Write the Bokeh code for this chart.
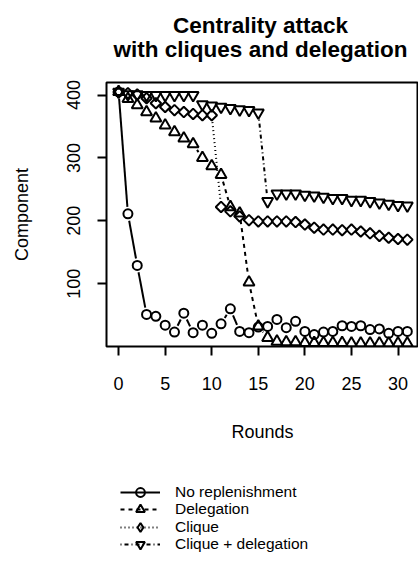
import math
from bokeh.plotting import figure
from bokeh.layouts import column
from bokeh.models import Range1d, FixedTicker, Legend, LegendItem, Label
from bokeh.embed import file_html
from bokeh.resources import INLINE

# ---------------- data ----------------
rounds = list(range(32))
no_replenishment = [405, 211, 129, 51, 48, 34, 23, 53, 22, 34, 21, 36, 60, 24, 22, 31,
                    32, 43, 30, 40, 24, 19, 23, 24, 33, 32, 33, 27, 28, 21, 24, 24]
delegation = [405, 394, 384, 373, 363, 352, 341, 331, 322, 300, 287, 273, 222, 212, 102, 32,
              14, 8, 7, 7, 6, 6, 6, 6, 6, 5, 5, 5, 5, 5, 5, 5]
clique = [405, 403, 401, 395, 387, 381, 376, 373, 370, 368, 368, 222, 215, 207, 201, 199,
          199, 199, 199, 198, 194, 189, 186, 186, 185, 186, 183, 180, 176, 173, 171, 170]
clique_delegation = [405, 401, 401, 400, 400, 400, 400, 400, 400, 385, 383, 381, 379, 377, 376, 372,
                     231, 243, 243, 243, 241, 240, 238, 236, 236, 233, 233, 231, 229, 227, 225, 224]
series_names = ["No replenishment", "Delegation", "Clique", "Clique + delegation"]
x_ticks = [0, 5, 10, 15, 20, 25, 30]
y_ticks = [100, 200, 300, 400]
title_lines = ["Centrality attack", "with cliques and delegation"]

# ---------------- layout ----------------
FONT = "Liberation Sans"
BASE = "18px"
LEGEND_FONT = "15.5px"
W = 418
TITLE_H = 78
MAIN_H = 382
LEG_H = 120
BL, BR, BT = 106, 0, 4
FW, FH = W - BL - BR, 264
BB = MAIN_H - BT - FH
X0, X1 = -1.3, 32.2
Y0, Y1 = 0, 420
CENTER_X = 260 - BL   # title centre, relative to the (column-aligned) frame left
TITLE_BASELINES = [25, 49]
LEGEND_ROWS = [492, 509, 527, 544]   # row centres (page px)
LEGEND_GLYPH_H = 22


def blank_fig(h):
    f = figure(width=W, height=h, x_range=Range1d(0, 1), y_range=Range1d(0, 1),
               output_backend="svg", toolbar_location=None,
               x_axis_type=None, y_axis_type=None,
               min_border_left=BL, min_border_right=BR, min_border_top=0, min_border_bottom=0)
    f.outline_line_color = None
    f.background_fill_color = "white"
    f.border_fill_color = "white"
    f.xgrid.visible = False
    f.ygrid.visible = False
    return f


# ---------- title ----------
pt = blank_fig(TITLE_H)
for txt, base_y in zip(title_lines, TITLE_BASELINES):
    pt.add_layout(Label(x=CENTER_X, y=TITLE_H - base_y, x_units="screen", y_units="screen",
                        text=txt, text_align="center", text_baseline="alphabetic",
                        text_font=FONT, text_font_size="22.5px", text_font_style="bold",
                        text_color="black"))

# ---------- main plot ----------
p = figure(width=W, height=MAIN_H, x_range=Range1d(X0, X1), y_range=Range1d(Y0, Y1),
           output_backend="svg", toolbar_location=None,
           min_border_left=BL, min_border_right=BR, min_border_top=BT, min_border_bottom=BB)
p.background_fill_color = "white"
p.border_fill_color = "white"
p.outline_line_color = "black"
p.outline_line_width = 2
p.xgrid.visible = False
p.ygrid.visible = False

for ax in (p.xaxis[0], p.yaxis[0]):
    ax.axis_line_color = None
    ax.major_tick_line_color = "black"
    ax.major_tick_line_width = 2
    ax.major_tick_out = 9
    ax.major_tick_in = 0
    ax.minor_tick_line_color = None
    ax.major_label_text_font = FONT
    ax.major_label_text_font_size = BASE
    ax.major_label_text_color = "black"
    ax.axis_label_text_font = FONT
    ax.axis_label_text_font_size = BASE
    ax.axis_label_text_font_style = "normal"
    ax.axis_label_text_color = "black"

p.xaxis.ticker = FixedTicker(ticks=x_ticks)
p.yaxis.ticker = FixedTicker(ticks=y_ticks)
p.xaxis.axis_label = "Rounds"
p.yaxis.axis_label = "Component"
p.yaxis.major_label_orientation = "vertical"
p.xaxis.major_label_standoff = 21
p.yaxis.major_label_standoff = 17
p.xaxis.axis_label_standoff = 29
p.yaxis.axis_label_standoff = 33


def gapped(xs, ys, gap=7.0):
    """R type='b' style: segments between points, shortened by a gap at both ends."""
    kx = FW / (X1 - X0)
    ky = FH / (Y1 - Y0)
    a, b, c, d = [], [], [], []
    for i in range(len(xs) - 1):
        dx = xs[i + 1] - xs[i]
        dy = ys[i + 1] - ys[i]
        L = math.hypot(dx * kx, dy * ky)
        if L <= 2 * gap:
            continue
        f = gap / L
        a.append(xs[i] + dx * f)
        b.append(ys[i] + dy * f)
        c.append(xs[i + 1] - dx * f)
        d.append(ys[i + 1] - dy * f)
    return a, b, c, d


styles = [
    (no_replenishment, "solid", dict(marker="circle", size=9, angle=0, legend_marker="circle")),
    (delegation, "4 4", dict(marker="triangle", size=11, angle=0, legend_marker="triangle")),
    (clique, "1 3", dict(marker="square", size=7.5, angle=math.pi / 4, legend_marker="diamond")),
    (clique_delegation, "1 3 4 3", dict(marker="inverted_triangle", size=11, angle=0,
                                        legend_marker="inverted_triangle")),
]

for vals, dash, mk in styles:
    x0, y0, x1, y1 = gapped(rounds, vals)
    p.segment(x0=x0, y0=y0, x1=x1, y1=y1, line_color="black", line_width=2, line_dash=dash)
    p.scatter(x=rounds, y=vals, marker=mk["marker"], size=mk["size"], angle=mk["angle"],
              fill_color=None, line_color="black", line_width=2)

# ---------- legend (below the plot): one row per Legend for exact row spacing ----------
pl = blank_fig(LEG_H)
LEG_TOP = TITLE_H + MAIN_H
for name, (vals, dash, mk), row_c in zip(series_names, styles, LEGEND_ROWS):
    # proxy renderers outside the visible range, used only to draw the legend glyphs
    ln = pl.line(x=[-5, -4], y=[-5, -5], line_color="black", line_width=2, line_dash=dash)
    sc = pl.scatter(x=[-5], y=[-5], marker=mk["legend_marker"], size=mk["size"],
                    fill_color=None, line_color="black", line_width=2)
    vy = LEG_H - LEGEND_GLYPH_H / 2 - (row_c - LEG_TOP)
    lg = Legend(items=[LegendItem(label=name, renderers=[ln, sc])],
                location=(120 - BL, int(round(vy))), orientation="vertical",
                border_line_color=None, background_fill_alpha=0,
                padding=0, margin=0, spacing=0,
                glyph_width=40, glyph_height=LEGEND_GLYPH_H, label_height=17,
                label_standoff=15,
                label_text_font=FONT, label_text_font_size=LEGEND_FONT,
                label_text_color="black")
    pl.add_layout(lg, "center")

layout = column(pt, p, pl, spacing=0)
open("out.html", "w").write(file_html(layout, INLINE))
